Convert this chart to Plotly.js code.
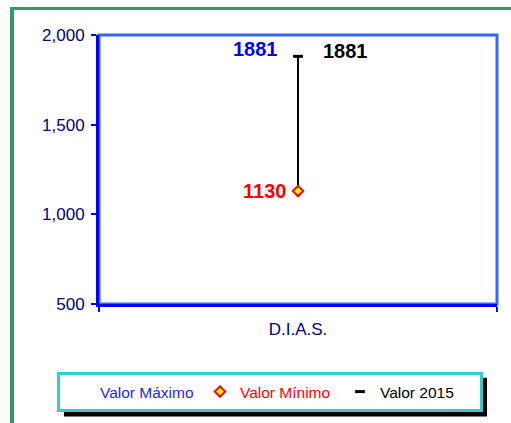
<!DOCTYPE html>
<html>
<head>
<meta charset="utf-8">
<script src="https://cdn.plot.ly/plotly-3.0.1.min.js"></script>
<style>
  html, body { margin: 0; padding: 0; background: #ffffff; overflow: hidden; }
  #chart { position: absolute; left: 0; top: 0; width: 511px; height: 423px; }
  #frame { position: absolute; left: 10px; top: 7px; width: 600px; height: 500px;
           border-top: 3px solid #339966; border-left: 4px solid #339966;
           pointer-events: none; z-index: 5; }
</style>
</head>
<body>
<div id="chart"></div>
<div id="frame"></div>
<script>
// ---- data ----
const categories = ['D.I.A.S.'];
const valorMaximo = [1881];
const valorMinimo = [1130];
const valor2015 = [1881];
const seriesNames = ['Valor Máximo', 'Valor Mínimo', 'Valor 2015'];
const yTickVals = [500, 1000, 1500, 2000];

const navy = '#000080';
const blue = '#0000FF';

const traces = [
  { // high-low line
    x: [categories[0], categories[0]],
    y: [valorMinimo[0], valorMaximo[0]],
    mode: 'lines', line: { color: '#000000', width: 2 },
    showlegend: false, hoverinfo: 'skip'
  },
  {
    name: '<span style="color:#1F1FFF">' + seriesNames[0] + '</span>',
    x: categories, y: valorMaximo, mode: 'markers',
    marker: { color: 'rgba(0,0,0,0)', size: 1 }, hoverinfo: 'skip'
  },
  {
    name: '<span style="color:#FF0000">' + seriesNames[1] + '</span>',
    x: categories, y: valorMinimo, mode: 'markers',
    marker: { symbol: 'diamond', size: 8, color: '#FFFF00', line: { color: '#FF0000', width: 2 } },
    hoverinfo: 'skip'
  },
  {
    name: '<span style="color:#000000">' + seriesNames[2] + '</span>',
    x: categories, y: valor2015, mode: 'markers',
    marker: { symbol: 'line-ew', size: 7, line: { color: '#000000', width: 3 } },
    hoverinfo: 'skip'
  }
];

const labelFont = { family: 'Arial, "Liberation Sans", sans-serif', size: 20 };
const annotations = [];
categories.forEach((c, i) => {
  annotations.push({ x: c, y: valorMaximo[i], text: '<b>' + valorMaximo[i] + '</b>', showarrow: false,
    xshift: -43, yshift: 7, font: Object.assign({}, labelFont, { color: '#0000FF' }) });
  annotations.push({ x: c, y: valor2015[i], text: '<b>' + valor2015[i] + '</b>', showarrow: false,
    xshift: 47, yshift: 5, font: Object.assign({}, labelFont, { color: '#000000' }) });
  annotations.push({ x: c, y: valorMinimo[i], text: '<b>' + valorMinimo[i] + '</b>', showarrow: false,
    xshift: -34, yshift: 0, font: Object.assign({}, labelFont, { color: '#FF0000' }) });
});

const W = 511, H = 423, mL = 99, mR = 14, mT = 35, mB = 118;
const pw = W - mL - mR, ph = H - mT - mB;
const px = v => (v - mL) / pw;
const py = v => (H - mB - v) / ph;

const layout = {
  width: W, height: H,
  margin: { l: mL, r: mR, t: mT, b: mB, pad: 0 },
  paper_bgcolor: '#ffffff', plot_bgcolor: '#ffffff',
  font: { family: 'Arial, "Liberation Sans", sans-serif', color: navy },
  showlegend: true,
  xaxis: {
    type: 'category', range: [-0.5, 0.5], tickson: 'boundaries',
    ticks: 'outside', ticklen: 5, tickwidth: 2, tickcolor: blue,
    showline: true, linecolor: blue, linewidth: 3, showgrid: false, zeroline: false,
    tickfont: { size: 17, color: navy }, ticklabelstandoff: 8, fixedrange: true
  },
  yaxis: {
    range: [500, 2000], tickvals: yTickVals, tickformat: ',d',
    ticks: 'outside', ticklen: 5, tickwidth: 2, tickcolor: blue,
    showline: true, linecolor: blue, linewidth: 3, showgrid: false, zeroline: false,
    tickfont: { size: 17, color: navy }, ticklabelstandoff: 3, fixedrange: true
  },
  xaxis2: {
    overlaying: 'x', anchor: 'y', type: 'linear', range: [-0.5, 0.5], tickvals: [-0.5, 0.5],
    ticks: 'inside', ticklen: 5, tickwidth: 2, tickcolor: blue,
    showticklabels: false, showgrid: false, zeroline: false, showline: false, fixedrange: true
  },
  yaxis2: {
    overlaying: 'y', anchor: 'x', side: 'left', range: [500, 2000], tickvals: yTickVals,
    ticks: 'inside', ticklen: 5, tickwidth: 2, tickcolor: blue,
    showticklabels: false, showgrid: false, zeroline: false, showline: false, fixedrange: true
  },
  legend: {
    orientation: 'h', x: px(57), xanchor: 'left', y: py(372), yanchor: 'top',
    bgcolor: '#ffffff', bordercolor: '#33CCCC', borderwidth: 3,
    entrywidth: 95, entrywidthmode: 'pixels', itemwidth: 30,
    font: { size: 15.5, family: 'Arial, "Liberation Sans", sans-serif', color: '#000000' },
    traceorder: 'normal'
  },
  shapes: [
    { type: 'rect', xref: 'paper', yref: 'paper', x0: 0, x1: 1, y0: 0, y1: 1,
      line: { color: '#3366FF', width: 3 }, layer: 'below' },
    { type: 'rect', xref: 'paper', yref: 'paper', x0: px(64), x1: px(487), y0: py(418), y1: py(379),
      fillcolor: '#000000', line: { width: 0 }, layer: 'above' }
  ],
  annotations: annotations
};

Plotly.newPlot('chart', traces, layout, { displayModeBar: false, staticPlot: true });
</script>
</body>
</html>
